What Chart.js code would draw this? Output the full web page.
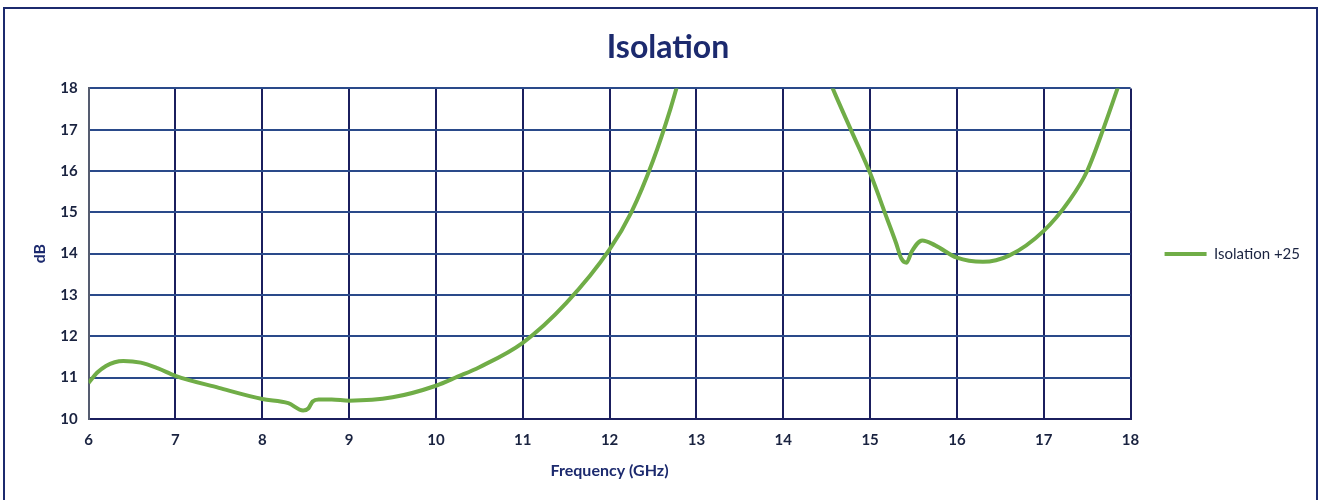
<!DOCTYPE html>
<html>
<head>
<meta charset="utf-8">
<script src="https://cdn.jsdelivr.net/npm/chart.js@4.4.0/dist/chart.umd.min.js"></script>
<style>
  html, body { margin: 0; padding: 0; background: #fff; }
  #wrap { position: relative; width: 1322px; height: 500px; }
  #frame { position: absolute; left: 3px; top: 7px; width: 1311px; height: 500px; border: 2px solid #1c2a6e; border-bottom: none; pointer-events: none; }
</style>
</head>
<body>
<div id="wrap">
  <canvas id="myChart" width="1322" height="500"></canvas>
  <div id="frame"></div>
</div>
<script>
// frequency in GHz, isolation in dB (values above 18 run off the top of the plot)
const freq = [6.0, 6.1, 6.2, 6.3, 6.4, 6.6, 6.8, 7.0, 7.5, 8.0, 8.3, 8.47, 8.53, 8.58, 8.65, 8.8, 9.0, 9.5, 10.0, 10.25, 10.5, 11.0, 11.5, 12.0, 12.25, 12.5, 12.7, 12.85,
              13.6,
              14.45, 14.6, 14.8, 15.0, 15.2, 15.3, 15.36, 15.42, 15.48, 15.6, 15.75, 16.0, 16.3, 16.6, 17.0, 17.3, 17.5, 17.7, 17.85, 17.95];
const isolation = [10.87, 11.12, 11.28, 11.37, 11.4, 11.36, 11.22, 11.04, 10.75, 10.48, 10.38, 10.2, 10.25, 10.42, 10.47, 10.47, 10.44, 10.52, 10.8, 11.02, 11.25, 11.84, 12.8, 14.1, 15.0, 16.25, 17.5, 18.6,
                   null,
                   18.6, 17.85, 16.9, 15.95, 14.82, 14.25, 13.88, 13.78, 14.05, 14.32, 14.2, 13.9, 13.8, 13.95, 14.55, 15.3, 16.0, 17.1, 18.0, 18.6];
const seriesName = 'Isolation +25';
const yTicks = [10, 11, 12, 13, 14, 15, 16, 17, 18];
const xTicks = [6, 7, 8, 9, 10, 11, 12, 13, 14, 15, 16, 17, 18];

const navy = '#1c2a6e';
const green = '#70ad47';
const points = freq.map((f, i) => ({ x: f, y: isolation[i] }));

const ctx = document.getElementById('myChart').getContext('2d');
const myChart = new Chart(ctx, {
    type: 'line',
    data: {
        datasets: [{
            label: seriesName,
            data: points,
            borderColor: green,
            backgroundColor: green,
            borderWidth: 4,
            pointRadius: 0,
            cubicInterpolationMode: 'monotone',
            spanGaps: false
        }]
    },
    options: {
        responsive: false,
        animation: false,
        layout: {
            padding: { top: 24, left: 26, right: 12, bottom: 16 }
        },
        scales: {
            x: {
                type: 'linear',
                min: 6,
                max: 18,
                afterBuildTicks: (axis) => { axis.ticks = xTicks.map(v => ({ value: v })); },
                grid: { color: '#1b1f5e', lineWidth: 2, drawTicks: false },
                border: { color: '#1b1f5e', width: 2 },
                ticks: { color: '#1a2340', padding: 12, font: { family: 'Lato', size: 15, weight: 'bold' } },
                title: { display: true, text: 'Frequency (GHz)', color: navy, padding: { top: 0 }, font: { family: 'Lato', size: 16, weight: 'bold' } }
            },
            y: {
                min: 10,
                max: 18,
                afterBuildTicks: (axis) => { axis.ticks = yTicks.map(v => ({ value: v })); },
                grid: { color: '#2a4a8a', lineWidth: 2, drawTicks: false },
                border: { color: '#555c70', width: 2 },
                ticks: { color: '#1a2340', padding: 11, font: { family: 'Lato', size: 15, weight: 'bold' } },
                title: { display: true, text: 'dB', color: navy, padding: { bottom: 0 }, font: { family: 'Lato', size: 16, weight: 'bold' } }
            }
        },
        plugins: {
          legend: {
            position: 'right',
            labels: {
              color: '#1a2340',
              boxWidth: 42,
              boxHeight: 4,
              padding: 34,
              font: { family: 'Lato', size: 15 },
              generateLabels: (chart) => [{
                  text: seriesName,
                  fillStyle: green,
                  strokeStyle: green,
                  lineWidth: 0,
                  fontColor: '#1a2340',
                  datasetIndex: 0
              }]
            }
          },
          title: {
            display: true,
            text: 'Isolation',
            color: navy,
            padding: { top: 4, bottom: 22 },
            font: { family: 'Lato', size: 32, weight: 'bold' }
          }
        }
    }
});
</script>
</body>
</html>
